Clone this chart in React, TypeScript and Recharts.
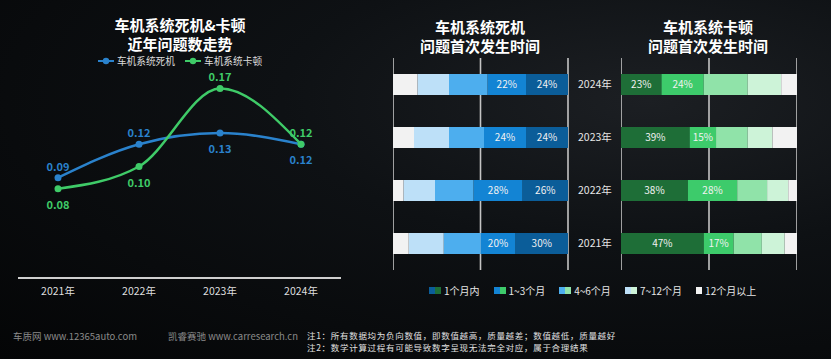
import { LineChart, Line, XAxis, YAxis, BarChart, Bar, CartesianGrid, LabelList } from "recharts"

// left panel: yearly problem count trend
const trendYears = ["2021年", "2022年", "2023年", "2024年"]
const crashTrend = [0.09, 0.12, 0.13, 0.12]
const lagTrend = [0.08, 0.1, 0.17, 0.12]

// right panels: when the problem first appeared (%)
const barYears = ["2024年", "2023年", "2022年", "2021年"]
const crashWithin1 = [24, 24, 26, 30]
const crash1to3 = [22, 24, 28, 20]
const crash4to6 = [22, 20, 22, 21]
const crash7to12 = [18, 20, 18, 20]
const crashOver12 = [14, 12, 6, 9]

const lagWithin1 = [23, 39, 38, 47]
const lag1to3 = [24, 15, 28, 17]
const lag4to6 = [25, 18, 17, 16]
const lag7to12 = [19, 14, 12, 13]
const lagOver12 = [9, 14, 5, 7]

const periodLabels = ["1个月内", "1~3个月", "4~6个月", "7~12个月", "12个月以上"]

const BLUE = ["#0b5d99", "#1384d4", "#4daeee", "#bde0f8", "#f2f2f2"]
const GREEN = ["#1e6e37", "#3dcb6b", "#90e3a9", "#cdf3d8", "#f2f2f2"]
const LINE_BLUE = "#2a82cc"
const LINE_GREEN = "#3fcb68"

const trendData = trendYears.map((year, i) => ({ year, crash: crashTrend[i], lag: lagTrend[i] }))
const crashData = barYears.map((year, i) => ({
  year,
  a: crashWithin1[i],
  b: crash1to3[i],
  c: crash4to6[i],
  d: crash7to12[i],
  e: crashOver12[i],
}))
const lagData = barYears.map((year, i) => ({
  year,
  a: lagWithin1[i],
  b: lag1to3[i],
  c: lag4to6[i],
  d: lag7to12[i],
  e: lagOver12[i],
}))

const crashSide = ["top", "top", "bottom", "bottom"]
const lagSide = ["bottom", "bottom", "top", "top"]

const makeLabel = (color: string, sides: string[]) => (props: any) => {
  const { x, y, value, index } = props
  const dy = sides[index] === "top" ? -12 : 15
  return (
    <text x={x} y={y + dy} fill={color} fontSize={11} fontWeight={700} textAnchor="middle" dominantBaseline="central">
      {Number(value).toFixed(2)}
    </text>
  )
}

const pct = (v: any) => `${v}%`
const keys = ["a", "b", "c", "d", "e"]

const titleStyle: React.CSSProperties = {
  position: "absolute",
  color: "#fff",
  fontSize: 15,
  fontWeight: 700,
  lineHeight: "19px",
  textAlign: "center",
  whiteSpace: "nowrap",
}

const noteStyle: React.CSSProperties = {
  position: "absolute",
  left: 307,
  fontSize: 8.5,
  letterSpacing: 0.7,
  lineHeight: "12px",
  color: "#e0e0e0",
  whiteSpace: "nowrap",
}

function LegendIcon({ color }: { color: string }) {
  return (
    <svg width={16} height={10} style={{ marginRight: 3 }}>
      <line x1={0} y1={5} x2={16} y2={5} stroke={color} strokeWidth={2} />
      <circle cx={8} cy={5} r={3.2} fill={color} />
    </svg>
  )
}

export default function App() {
  return (
    <div
      style={{
        position: "absolute",
        left: 0,
        top: 0,
        width: 831,
        height: 359,
        overflow: "hidden",
        fontFamily: "'Noto Sans CJK SC', 'Noto Sans', sans-serif",
        background:
          "radial-gradient(ellipse at 78% 28%, #1c1f23 0%, #0e1114 40%, #040506 100%)",
      }}
    >
      {/* left title + legend */}
      <div style={{ ...titleStyle, left: 80, width: 200, top: 15 }}>
        车机系统死机&amp;卡顿
        <br />
        近年问题数走势
      </div>
      <div
        style={{
          position: "absolute",
          left: 0,
          width: 360,
          top: 55,
          height: 12,
          display: "flex",
          justifyContent: "center",
          alignItems: "center",
          fontSize: 9.7,
          lineHeight: "12px",
          color: "#ddd",
        }}
      >
        <LegendIcon color={LINE_BLUE} />
        <span style={{ marginRight: 10 }}>车机系统死机</span>
        <LegendIcon color={LINE_GREEN} />
        <span>车机系统卡顿</span>
      </div>

      <div style={{ position: "absolute", left: 18, top: 55 }}>
        <LineChart width={323} height={250} data={trendData} margin={{ top: 0, right: 0, bottom: 0, left: 0 }}>
          <XAxis
            dataKey="year"
            padding={{ left: 40, right: 40 }}
            height={27}
            axisLine={{ stroke: "#cfcfcf", strokeWidth: 2 }}
            tickLine={false}
            tick={{ fill: "#dedede", fontSize: 10.5 }}
            tickMargin={4}
          />
          <YAxis hide domain={[0, 0.2]} />
          <Line
            type="monotone"
            dataKey="crash"
            stroke={LINE_BLUE}
            strokeWidth={2.5}
            dot={{ r: 3.5, fill: LINE_BLUE, stroke: LINE_BLUE, strokeWidth: 0 }}
            isAnimationActive={false}
          >
            <LabelList dataKey="crash" content={makeLabel(LINE_BLUE, crashSide)} />
          </Line>
          <Line
            type="monotone"
            dataKey="lag"
            stroke={LINE_GREEN}
            strokeWidth={2.5}
            dot={{ r: 3.5, fill: LINE_GREEN, stroke: LINE_GREEN, strokeWidth: 0 }}
            isAnimationActive={false}
          >
            <LabelList dataKey="lag" content={makeLabel(LINE_GREEN, lagSide)} />
          </Line>
        </LineChart>
      </div>

      {/* middle: crash first occurrence */}
      <div style={{ ...titleStyle, left: 400, width: 160, top: 17 }}>
        车机系统死机
        <br />
        问题首次发生时间
      </div>
      <div style={{ position: "absolute", left: 393, top: 58 }}>
        <BarChart
          width={225}
          height={212}
          data={crashData}
          layout="vertical"
          margin={{ top: 0, right: 0, bottom: 0, left: 0 }}
        >
          <CartesianGrid horizontal={false} stroke="#c4c4c4" strokeWidth={1.6} />
          <XAxis type="number" hide reversed domain={[0, 100]} ticks={[0, 50, 100]} />
          <YAxis
            type="category"
            dataKey="year"
            orientation="right"
            width={50}
            axisLine={false}
            tickLine={false}
            tickMargin={4}
            tick={{ fill: "#e6e6e6", fontSize: 10.5 }}
          />
          {keys.map((k, i) => (
            <Bar key={k} dataKey={k} stackId="s" fill={BLUE[i]} barSize={21} isAnimationActive={false}>
              {i < 2 && <LabelList dataKey={k} position="center" fill="#f2f2f2" fontSize={10} formatter={pct} />}
            </Bar>
          ))}
        </BarChart>
      </div>

      {/* right: lag first occurrence */}
      <div style={{ ...titleStyle, left: 628, width: 160, top: 17 }}>
        车机系统卡顿
        <br />
        问题首次发生时间
      </div>
      <div style={{ position: "absolute", left: 621, top: 58 }}>
        <BarChart
          width={176}
          height={212}
          data={lagData}
          layout="vertical"
          margin={{ top: 0, right: 0, bottom: 0, left: 0 }}
        >
          <CartesianGrid horizontal={false} stroke="#c4c4c4" strokeWidth={1.6} />
          <XAxis type="number" hide domain={[0, 100]} ticks={[0, 50, 100]} />
          <YAxis type="category" dataKey="year" hide />
          {keys.map((k, i) => (
            <Bar key={k} dataKey={k} stackId="s" fill={GREEN[i]} barSize={21} isAnimationActive={false}>
              {i < 2 && <LabelList dataKey={k} position="center" fill="#f2f2f2" fontSize={10} formatter={pct} />}
            </Bar>
          ))}
        </BarChart>
      </div>

      {/* shared legend */}
      <div
        style={{
          position: "absolute",
          left: 429,
          top: 283,
          display: "flex",
          alignItems: "center",
          fontSize: 10,
          color: "#e6e6e6",
          whiteSpace: "nowrap",
        }}
      >
        {periodLabels.map((label, i) => (
          <div key={label} style={{ display: "flex", alignItems: "center", marginRight: 14 }}>
            <span style={{ width: 6, height: 7, background: BLUE[i], display: "inline-block" }} />
            {i < 4 && <span style={{ width: 6, height: 7, background: GREEN[i], display: "inline-block" }} />}
            <span style={{ marginLeft: 3 }}>{label}</span>
          </div>
        ))}
      </div>

      {/* footer */}
      <div style={{ position: "absolute", left: 13, top: 329, fontSize: 9.5, color: "#8a8a8a", whiteSpace: "nowrap" }}>
        车质网 www.12365auto.com
      </div>
      <div style={{ position: "absolute", left: 168, top: 329, fontSize: 9.5, color: "#8a8a8a", whiteSpace: "nowrap" }}>
        凯睿赛驰 www.carresearch.cn
      </div>
      <div style={{ ...noteStyle, top: 329 }}>注1：所有数据均为负向数值，即数值越高，质量越差；数值越低，质量越好</div>
      <div style={{ ...noteStyle, top: 341 }}>注2：数学计算过程有可能导致数字呈现无法完全对应，属于合理结果</div>
    </div>
  )
}
